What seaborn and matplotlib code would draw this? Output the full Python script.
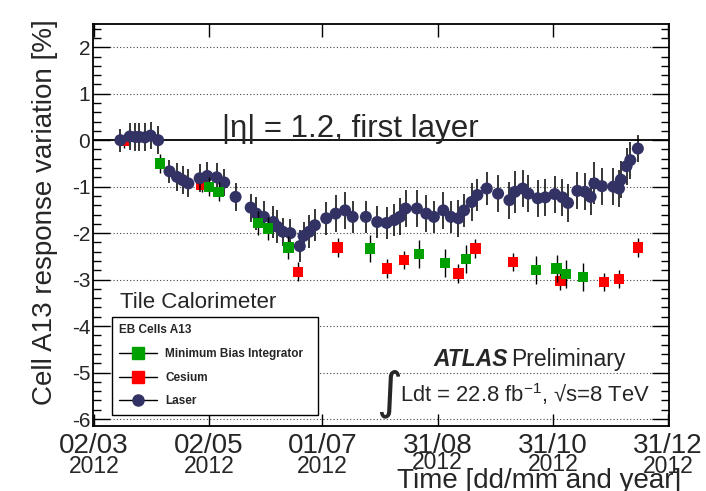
import pandas as pd
import seaborn as sns
import matplotlib.pyplot as plt
import matplotlib.transforms as mtransforms
from matplotlib.ticker import MultipleLocator
from matplotlib.lines import Line2D

# Laser (date, response variation [%], error)
laser_dates = ['2012-03-16', '2012-03-21', '2012-03-24', '2012-03-26', '2012-03-29', '2012-04-01',
               '2012-04-05', '2012-04-11', '2012-04-15', '2012-04-18', '2012-04-21', '2012-04-27',
               '2012-05-01', '2012-05-06', '2012-05-10', '2012-05-16', '2012-05-24', '2012-05-27',
               '2012-05-31', '2012-06-05', '2012-06-07', '2012-06-10', '2012-06-14', '2012-06-19',
               '2012-06-21', '2012-06-24', '2012-06-27', '2012-07-03', '2012-07-08', '2012-07-13',
               '2012-07-17', '2012-07-24', '2012-07-30', '2012-08-04', '2012-08-08', '2012-08-11',
               '2012-08-14', '2012-08-20', '2012-08-25', '2012-08-29', '2012-09-03', '2012-09-07',
               '2012-09-11', '2012-09-14', '2012-09-18', '2012-09-21', '2012-09-26', '2012-10-02',
               '2012-10-08', '2012-10-11', '2012-10-15', '2012-10-18', '2012-10-23', '2012-10-27',
               '2012-11-01', '2012-11-05', '2012-11-08', '2012-11-13', '2012-11-17', '2012-11-20',
               '2012-11-22', '2012-11-26', '2012-12-02', '2012-12-05', '2012-12-06', '2012-12-09',
               '2012-12-11', '2012-12-15']
laser_values = [0.00, 0.08, 0.07, 0.07, 0.06, 0.10,
                0.00, -0.67, -0.79, -0.86, -0.93, -0.82,
                -0.77, -0.80, -0.91, -1.22, -1.45, -1.58,
                -1.65, -1.76, -1.86, -1.97, -2.00, -2.28,
                -2.06, -1.97, -1.83, -1.68, -1.58, -1.51,
                -1.65, -1.65, -1.76, -1.78, -1.72, -1.65,
                -1.47, -1.47, -1.58, -1.65, -1.51, -1.65,
                -1.68, -1.51, -1.33, -1.18, -1.04, -1.15,
                -1.29, -1.11, -1.04, -1.15, -1.25, -1.23,
                -1.16, -1.23, -1.35, -1.09, -1.11, -1.22,
                -0.93, -0.99, -1.00, -1.04, -0.85, -0.56,
                -0.43, -0.18]
laser_errors = [0.25, 0.30, 0.30, 0.30, 0.30, 0.30,
                0.30, 0.25, 0.30, 0.30, 0.30, 0.30,
                0.30, 0.30, 0.30, 0.30, 0.30, 0.35,
                0.35, 0.35, 0.35, 0.30, 0.30, 0.35,
                0.30, 0.35, 0.35, 0.35, 0.40, 0.40,
                0.35, 0.35, 0.35, 0.35, 0.35, 0.40,
                0.40, 0.40, 0.40, 0.35, 0.40, 0.35,
                0.40, 0.35, 0.40, 0.35, 0.35, 0.40,
                0.40, 0.45, 0.40, 0.40, 0.40, 0.40,
                0.40, 0.40, 0.40, 0.40, 0.40, 0.40,
                0.45, 0.40, 0.40, 0.40, 0.40, 0.40,
                0.40, 0.30]

# Minimum Bias Integrator
mb_dates = ['2012-04-06', '2012-05-02', '2012-05-07', '2012-05-28', '2012-06-02', '2012-06-13',
            '2012-07-26', '2012-08-21', '2012-09-04', '2012-09-15', '2012-10-22', '2012-11-02',
            '2012-11-07', '2012-11-16']
mb_values = [-0.50, -1.00, -1.11, -1.78, -1.90, -2.31,
             -2.33, -2.45, -2.64, -2.55, -2.80, -2.76,
             -2.88, -2.95]
mb_errors = [0.20, 0.20, 0.20, 0.25, 0.25, 0.25,
             0.30, 0.30, 0.30, 0.30, 0.30, 0.30,
             0.30, 0.30]

# Cesium
cs_dates = ['2012-03-18', '2012-04-28', '2012-06-18', '2012-07-09', '2012-08-04', '2012-08-13',
            '2012-09-11', '2012-09-20', '2012-10-10', '2012-11-04', '2012-11-27', '2012-12-05',
            '2012-12-15']
cs_values = [-0.02, -0.97, -2.83, -2.31, -2.76, -2.58,
             -2.87, -2.33, -2.62, -3.03, -3.05, -2.99,
             -2.31]
cs_errors = [0.15, 0.15, 0.20, 0.20, 0.20, 0.20,
             0.20, 0.20, 0.20, 0.20, 0.20, 0.20,
             0.20]

tick_dates = ['2012-03-02', '2012-05-02', '2012-07-01', '2012-08-31', '2012-10-31', '2012-12-31']
tick_labels = ['02/03', '02/05', '01/07', '31/08', '31/10', '31/12']
year_labels = ['2012', '2012', '2012', '2012', '2012', '2012']

laser = pd.DataFrame({'date': pd.to_datetime(laser_dates), 'value': laser_values, 'err': laser_errors})
mb = pd.DataFrame({'date': pd.to_datetime(mb_dates), 'value': mb_values, 'err': mb_errors})
cs = pd.DataFrame({'date': pd.to_datetime(cs_dates), 'value': cs_values, 'err': cs_errors})

sns.set_theme(style='ticks')
plt.rcParams['font.family'] = ['Liberation Sans', 'DejaVu Sans']
plt.rcParams['axes.unicode_minus'] = False
plt.rcParams['mathtext.fontset'] = 'custom'
plt.rcParams['mathtext.rm'] = 'Liberation Sans'

laser_color = '#323264'
mb_color = '#00a000'
cs_color = '#ff0000'

fig = plt.figure(figsize=(7.06, 4.91), dpi=100)
ax = fig.add_axes([0.1317, 0.1324, 0.8159, 0.8187])

# dotted grid and zero line
for yv in [-6, -5, -4, -3, -2, -1, 1, 2]:
    ax.axhline(yv, color='#444444', linestyle=(0, (1, 2)), linewidth=0.8, zorder=0)
ax.axhline(0, color='black', linewidth=1.3, zorder=1)

# Cesium (drawn first, behind laser)
ax.errorbar(cs['date'], cs['value'], yerr=cs['err'], fmt='none', ecolor='black', elinewidth=1.0, zorder=2)
sns.scatterplot(x='date', y='value', data=cs, marker='s', s=55, color=cs_color, edgecolor='none', ax=ax, zorder=3)

# Laser
ax.errorbar(laser['date'], laser['value'], yerr=laser['err'], fmt='none', ecolor='black', elinewidth=1.1, zorder=4)
sns.scatterplot(x='date', y='value', data=laser, marker='o', s=75, color=laser_color, edgecolor='none', ax=ax, zorder=5)

# Minimum Bias Integrator
ax.errorbar(mb['date'], mb['value'], yerr=mb['err'], fmt='none', ecolor='black', elinewidth=1.0, zorder=6)
sns.scatterplot(x='date', y='value', data=mb, marker='s', s=55, color=mb_color, edgecolor='none', ax=ax, zorder=7)

ax.set_xlim(pd.Timestamp('2012-03-01 12:00'), pd.Timestamp('2012-12-31 12:00'))
ax.set_ylim(-6.15, 2.5)

ax.set_xticks(pd.to_datetime(tick_dates))
ax.set_xticklabels(tick_labels, fontsize=20)
ax.xaxis.set_minor_locator(plt.NullLocator())
ax.yaxis.set_major_locator(MultipleLocator(1))
ax.yaxis.set_minor_locator(MultipleLocator(0.2))
ax.tick_params(axis='y', which='major', direction='in', length=12, width=1.0, labelsize=15, pad=2,
               left=True, right=True, color='black')
ax.tick_params(axis='y', which='minor', direction='in', length=6, width=1.0, left=True, right=True, color='black')
ax.tick_params(axis='x', which='major', direction='in', length=9, width=1.0, pad=5, top=True, bottom=True,
               color='black')
for sp in ax.spines.values():
    sp.set_color('black')
    sp.set_linewidth(1.3)
ax.set_xlabel('')
ax.set_ylabel('')
ax.grid(False)

# year line under the date labels
trans = mtransforms.blended_transform_factory(ax.transData, fig.transFigure)
year_shift = [0, 0, 0, 4, 2, 0]
for d, yl, sh in zip(tick_dates, year_labels, year_shift):
    ax.text(pd.Timestamp(d), 1 - (455 - sh) / 491, yl, transform=trans, ha='center', va='top',
            fontsize=16.5, clip_on=False)

# axis titles
fig.text(45 / 706, 1 - 405 / 491, 'Cell A13 response variation [%]', rotation=90, ha='center', va='bottom',
         fontsize=20)
fig.text(681 / 706, 1 - 468 / 491, 'Time [dd/mm and year]', ha='right', va='top', fontsize=20)

# annotations
fig.text(222 / 706, 1 - 137 / 491, '|η| = 1.2, first layer', ha='left', va='baseline', fontsize=22.5)
fig.text(120 / 706, 1 - 308 / 491, 'Tile Calorimeter', ha='left', va='baseline', fontsize=16)
atlas = fig.text(433 / 706, 1 - 366 / 491, 'ATLAS', ha='left', va='baseline', fontsize=16.5,
                 fontweight='bold', fontstyle='italic')
renderer = fig.canvas.get_renderer()
atlas_box = atlas.get_window_extent(renderer)
fig.text((atlas_box.x1 + 4) / 706, 1 - 366 / 491, 'Preliminary', ha='left', va='baseline', fontsize=16.5)
fig.text(389 / 706, 1 - 407 / 491, '∫', ha='center', va='baseline', fontsize=36, family=['DejaVu Sans'])
fig.text(400 / 706, 1 - 402 / 491, r'Ldt = 22.8 fb$^{-1}$, √s=8 TeV', ha='left', va='baseline', fontsize=15.8)

# legend
handles = [
    Line2D([], [], color='black', linewidth=1.0, marker='s', markersize=8, markerfacecolor=mb_color,
           markeredgecolor=mb_color),
    Line2D([], [], color='black', linewidth=1.0, marker='s', markersize=8, markerfacecolor=cs_color,
           markeredgecolor=cs_color),
    Line2D([], [], color='black', linewidth=1.0, marker='o', markersize=8, markerfacecolor=laser_color,
           markeredgecolor=laser_color),
]
labels = ['Minimum Bias Integrator', 'Cesium', 'Laser']
leg = ax.legend(handles, labels, title='EB Cells A13', loc='upper left',
                bbox_to_anchor=((112 - 93) / 576, (426 - 321) / 402, 206 / 576, 0.01), mode='expand',
                frameon=True, fancybox=False, edgecolor='black', framealpha=1, borderaxespad=0,
                prop={'size': 8.5, 'weight': 'bold'}, handlelength=3.2, handletextpad=0.7,
                labelspacing=1.0, borderpad=0.6, alignment='left')
leg.get_title().set_fontsize(8.5)
leg.get_title().set_fontweight('bold')
leg.get_frame().set_linewidth(1.0)
leg.set_zorder(10)

fig.savefig('out.png', dpi=100)
